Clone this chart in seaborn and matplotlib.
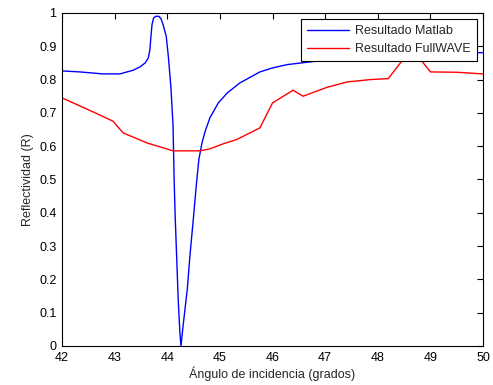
import matplotlib
matplotlib.use("Agg")
import matplotlib.pyplot as plt
import seaborn as sns
import pandas as pd

# Data
matlab_angle = [42.0, 42.34, 42.78, 43.1, 43.35, 43.48, 43.58, 43.64, 43.67, 43.69, 43.71,
                43.74, 43.78, 43.84, 43.88, 43.92, 43.98, 44.02, 44.07, 44.11, 44.13,
                44.15, 44.18, 44.21, 44.24, 44.26, 44.3, 44.38, 44.43, 44.5, 44.55,
                44.6, 44.66, 44.72, 44.81, 44.97, 45.14, 45.38, 45.76, 46.0, 46.28,
                46.71, 46.9, 47.5, 48.0, 48.5, 49.0, 49.5, 50.0]
matlab_refl = [0.826, 0.823, 0.817, 0.817, 0.828, 0.838, 0.85, 0.865, 0.89, 0.93, 0.965,
               0.985, 0.99, 0.99, 0.983, 0.965, 0.93, 0.87, 0.775, 0.66, 0.5,
               0.39, 0.26, 0.13, 0.04, 0.0, 0.06, 0.17, 0.27, 0.39, 0.48,
               0.56, 0.61, 0.645, 0.685, 0.73, 0.76, 0.79, 0.823, 0.835, 0.845,
               0.853, 0.857, 0.865, 0.87, 0.874, 0.877, 0.879, 0.881]

fw_angle = [42.0, 42.59, 42.97, 43.16, 43.61, 44.11, 44.62, 44.81, 45.06, 45.32, 45.76,
            46.0, 46.39, 46.58, 47.04, 47.42, 47.86, 48.2, 48.6, 48.84, 49.0, 49.5, 50.0]
fw_refl = [0.745, 0.703, 0.675, 0.64, 0.61, 0.586, 0.586, 0.592, 0.607, 0.62, 0.655,
           0.73, 0.768, 0.75, 0.777, 0.793, 0.80, 0.803, 0.885, 0.855, 0.823, 0.822, 0.817]

series_names = ["Resultado Matlab", "Resultado FullWAVE"]
x_ticks = [42, 43, 44, 45, 46, 47, 48, 49, 50]
y_ticks = [0, 0.1, 0.2, 0.3, 0.4, 0.5, 0.6, 0.7, 0.8, 0.9, 1]
y_tick_labels = ["0", "0.1", "0.2", "0.3", "0.4", "0.5", "0.6", "0.7", "0.8", "0.9", "1"]

sns.set_style("white")
plt.rcParams['font.family'] = ['Liberation Sans', 'DejaVu Sans']

df = pd.concat([
    pd.DataFrame({"x": matlab_angle, "y": matlab_refl, "s": series_names[0]}),
    pd.DataFrame({"x": fw_angle, "y": fw_refl, "s": series_names[1]}),
])

fig = plt.figure(figsize=(4.93, 3.85), dpi=100)
ax = fig.add_axes([0.1258, 0.1013, 0.8540, 0.8650])
sns.lineplot(data=df, x="x", y="y", hue="s", estimator=None, sort=False,
             palette=["#0000ff", "#ff0000"], linewidth=1.0, ax=ax)

ax.set_xlim(42, 50)
ax.set_ylim(0, 1)
ax.set_xticks(x_ticks)
ax.set_xticklabels([str(t) for t in x_ticks])
ax.set_yticks(y_ticks)
ax.set_yticklabels(y_tick_labels)
ax.tick_params(direction="in", length=4, width=0.8, top=True, right=True,
               labelsize=9, colors="black", pad=4)
for s in ax.spines.values():
    s.set_visible(True)
    s.set_color("black")
    s.set_linewidth(0.8)
ax.set_xlabel("Ángulo de incidencia (grados)", fontsize=9, labelpad=2)
ax.set_ylabel("Reflectividad (R)", fontsize=9, labelpad=4)

leg = ax.legend(loc="upper right", fontsize=9, frameon=True, fancybox=False,
                edgecolor="black", framealpha=1, borderaxespad=0.5,
                handlelength=3.3, borderpad=0.5, labelspacing=0.45,
                handletextpad=0.5)
leg.get_frame().set_linewidth(0.8)
leg.set_title(None)

fig.savefig("out.png", dpi=100, facecolor="white")
